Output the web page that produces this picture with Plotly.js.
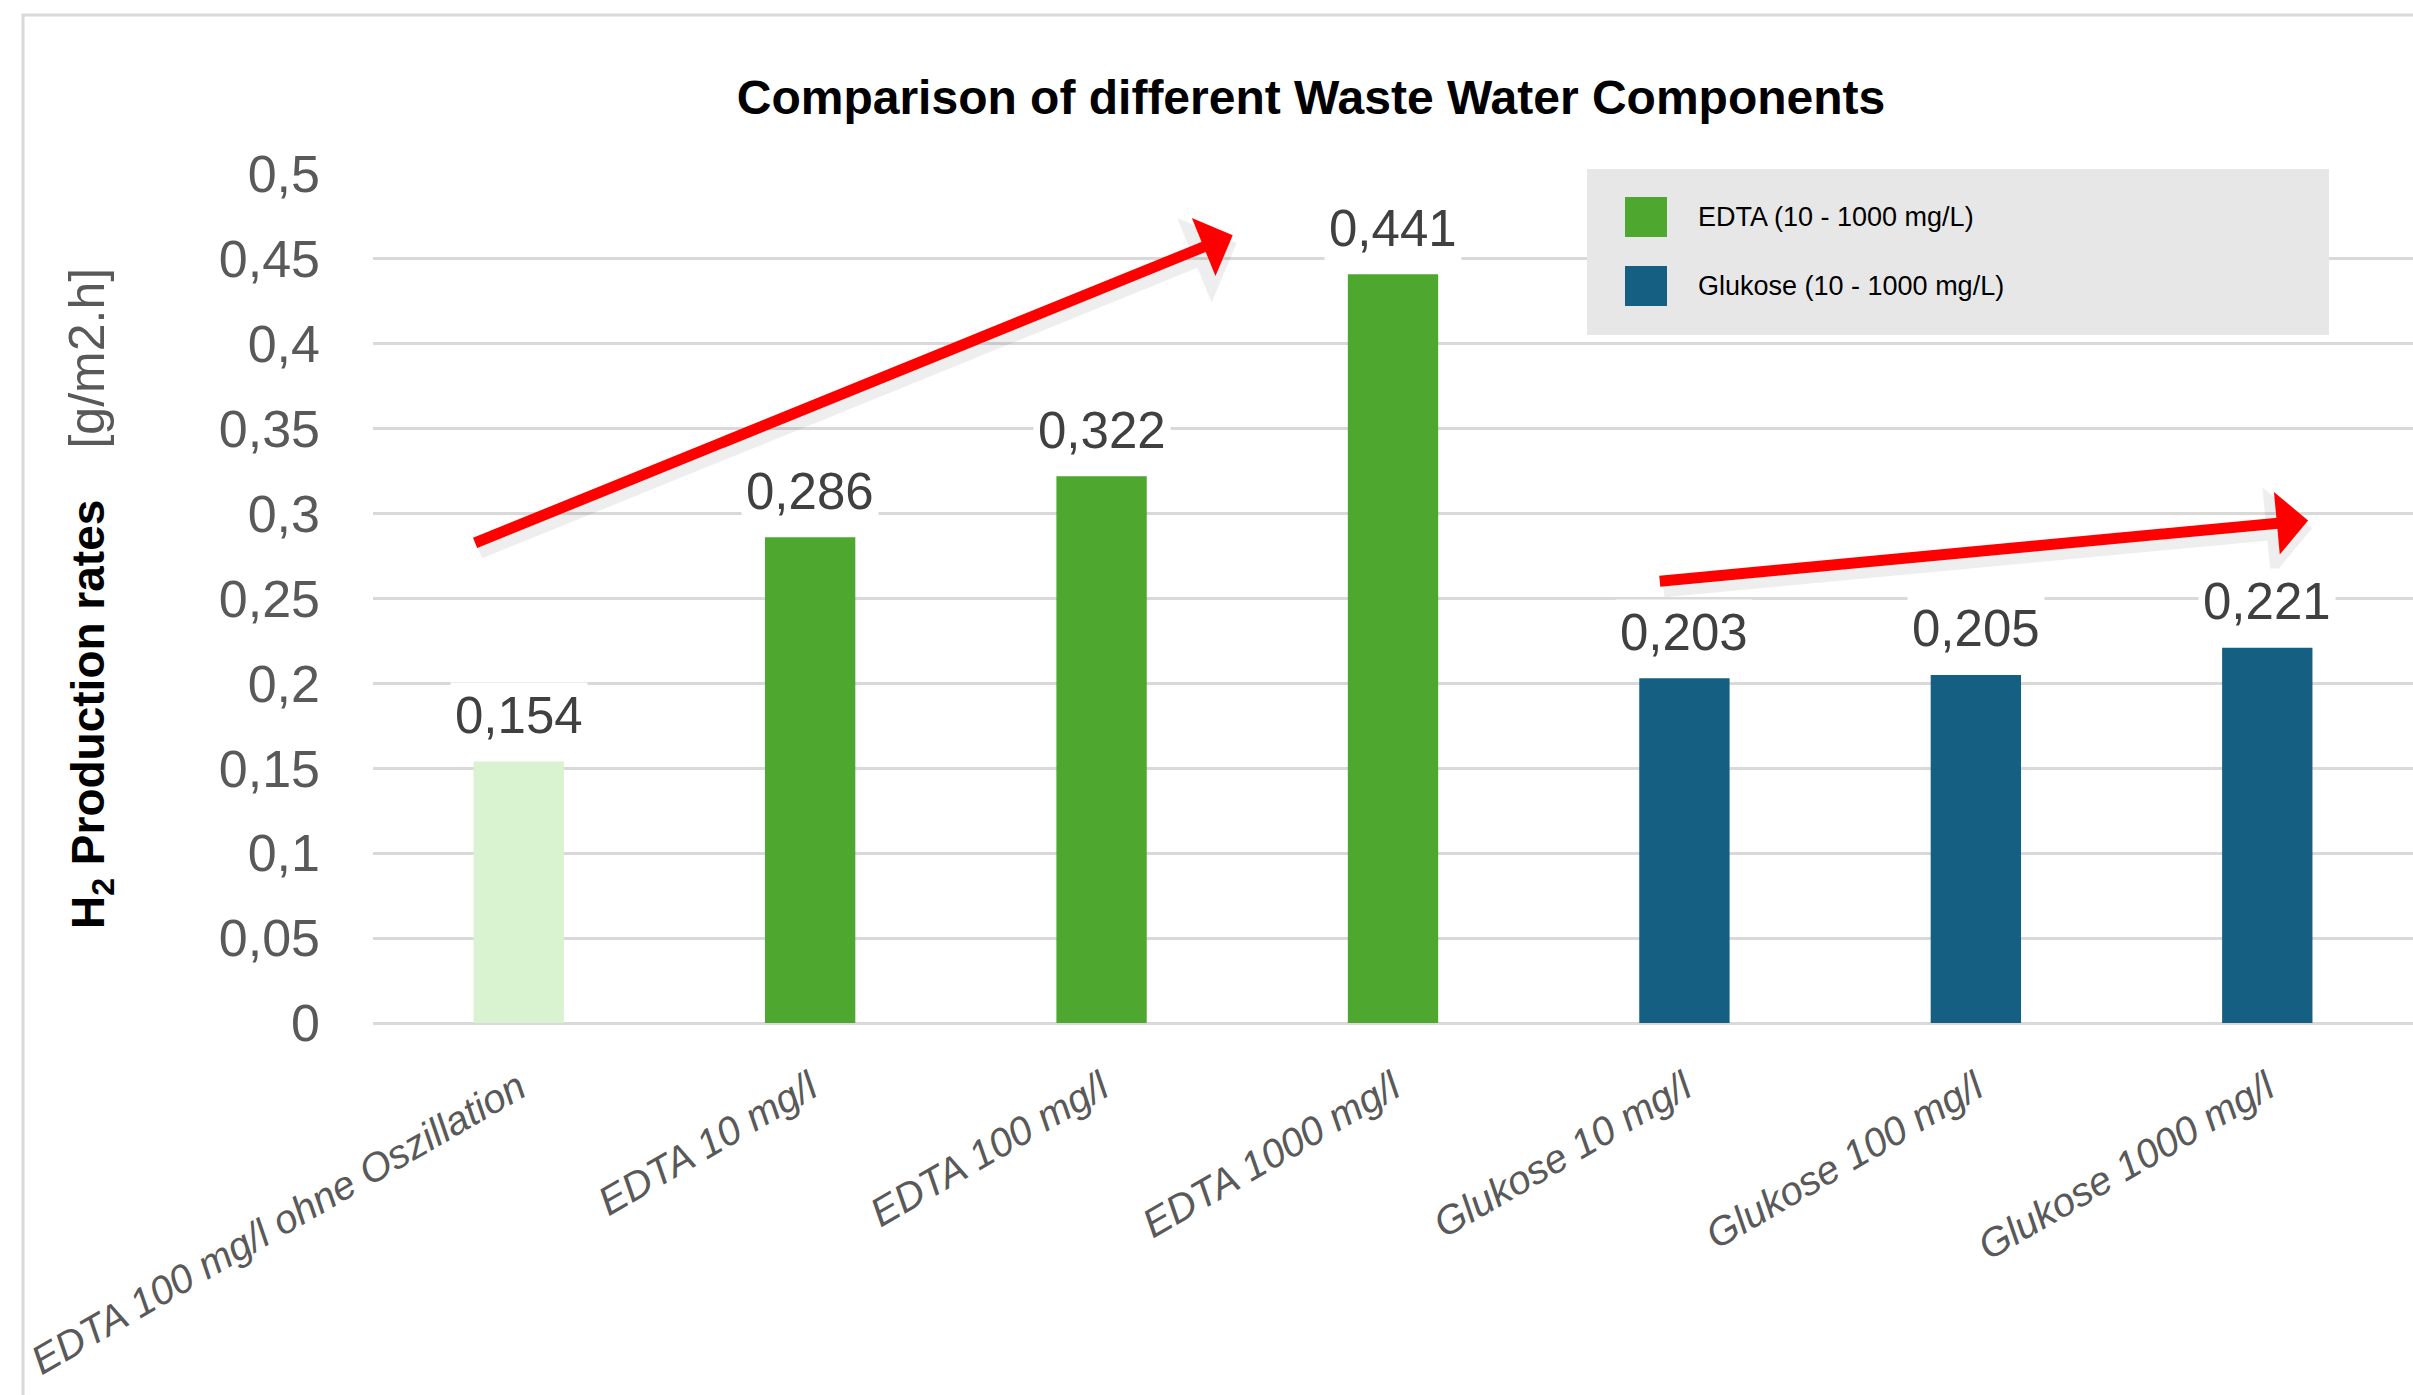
<!DOCTYPE html>
<html><head><meta charset="utf-8">
<script src="https://cdn.plot.ly/plotly-3.0.1.min.js"></script>
<style>html,body{margin:0;padding:0;background:#fff;overflow:hidden}#chart{width:2413px;height:1395px}</style>
</head><body><div id="chart"></div>
<script>
// ---- data ----
const categories = ["EDTA 100 mg/l ohne Oszillation","EDTA 10 mg/l","EDTA 100 mg/l","EDTA 1000 mg/l","Glukose 10 mg/l","Glukose 100 mg/l","Glukose 1000 mg/l"];
const baselineCategories = ["EDTA 100 mg/l ohne Oszillation"];
const baselineValues = [0.154];
const edtaCategories = ["EDTA 10 mg/l","EDTA 100 mg/l","EDTA 1000 mg/l"];
const edtaValues = [0.286, 0.322, 0.441];
const glukoseCategories = ["Glukose 10 mg/l","Glukose 100 mg/l","Glukose 1000 mg/l"];
const glukoseValues = [0.203, 0.205, 0.221];
const legendLabels = ["EDTA (10 - 1000 mg/L)", "Glukose (10 - 1000 mg/L)"];
const titleText = "Comparison of different Waste Water Components";
// trend arrows: [x index, value] tail -> head
const arrowTails = [[-0.16, 0.282], [3.905, 0.260]];
const arrowHeads = [[2.45, 0.464], [6.14, 0.296]];

// ---- styles ----
const cLight = "#D9F2D0", cGreen = "#4EA72E", cBlue = "#156082";
const W = 2413, H = 1395, L = 373, R = 0, T = 174, B = 372;
const PW = W - L - R, PH = H - T - B;
const px2x = X => (X - L) / PW;
const px2y = Y => (H - B - Y) / PH;
const fmt = v => v.toFixed(3).replace('.', ',');
const barW = 0.31;

const traces = [
  {type:'bar', x: baselineCategories, y: baselineValues, marker:{color:cLight}, width: barW, showlegend:false},
  {type:'bar', name: legendLabels[0], x: edtaCategories, y: edtaValues, marker:{color:cGreen}, width: barW, showlegend:false},
  {type:'bar', name: legendLabels[1], x: glukoseCategories, y: glukoseValues, marker:{color:cBlue}, width: barW, showlegend:false}
];

const annotations = [];
// arrows (soft shadow + arrow)
arrowTails.forEach((t, i) => {
  const h = arrowHeads[i];
  annotations.push({x:h[0], y:h[1], ax:t[0], ay:t[1], xref:'x', yref:'y', axref:'x', ayref:'y', text:' ',
    showarrow:true, arrowhead:1, arrowsize:0.95, arrowwidth:16, arrowcolor:'rgba(0,0,0,0.07)', xshift:4, yshift:-8});
  annotations.push({x:h[0], y:h[1], ax:t[0], ay:t[1], xref:'x', yref:'y', axref:'x', ayref:'y', text:' ',
    showarrow:true, arrowhead:1, arrowsize:0.95, arrowwidth:11, arrowcolor:'#FF0000'});
});
// data labels
[[baselineCategories, baselineValues],[edtaCategories, edtaValues],[glukoseCategories, glukoseValues]].forEach(([cs, vs]) => {
  cs.forEach((c, i) => annotations.push({
    x: c, y: vs[i], xref:'x', yref:'y', text: fmt(vs[i]), showarrow:false,
    yanchor:'middle', yshift: 46, bgcolor:'#ffffff', borderpad: 4,
    font:{family:'Liberation Sans Narrow, Arial Narrow, Liberation Sans, sans-serif', size:51, color:'#404040'}
  }));
});
// custom legend text
const legendColors = [cGreen, cBlue];
const legendRowsY = [217, 286];
legendLabels.forEach((lab, i) => annotations.push({
  x: px2x(1696), y: px2y(legendRowsY[i]), xref:'paper', yref:'paper', xanchor:'left', yanchor:'middle',
  text: lab, showarrow:false, font:{family:'Liberation Sans Narrow, Arial Narrow, Liberation Sans, sans-serif', size:27, color:'#000000'}
}));

const shapes = [
  // outer chart border
  {type:'rect', xref:'paper', yref:'paper', x0:px2x(23), x1:px2x(W+20), y0:px2y(H+20), y1:px2y(15),
   line:{color:'#D9D9D9', width:3}, fillcolor:'rgba(0,0,0,0)', layer:'below'},
  // legend box
  {type:'rect', xref:'paper', yref:'paper', x0:px2x(1587), x1:px2x(2329), y0:px2y(335), y1:px2y(169),
   line:{width:0}, fillcolor:'#E7E7E7', layer:'above'}
];
legendColors.forEach((c, i) => shapes.push({type:'rect', xref:'paper', yref:'paper',
  x0:px2x(1625), x1:px2x(1667), y0:px2y(legendRowsY[i]+20), y1:px2y(legendRowsY[i]-20),
  line:{width:0}, fillcolor:c, layer:'above'}));

const layout = {
  width:W, height:H, margin:{l:L, r:R, t:T, b:B, pad:0},
  paper_bgcolor:'#ffffff', plot_bgcolor:'#ffffff',
  separators: ',.',
  barmode:'overlay', showlegend:false,
  title:{text:'<b>' + titleText + '</b>', xref:'container', yref:'container', x:1311/W, y:1-97/H,
    xanchor:'center', yanchor:'middle', font:{family:'Liberation Sans, Arial, sans-serif', size:48, color:'#000000'}},
  xaxis:{type:'category', categoryorder:'array', categoryarray:categories, range:[-0.5, 6.5],
    showgrid:false, showline:false, zeroline:false, ticks:'', tickangle:-30, ticklabelstandoff:33,
    tickfont:{family:'Liberation Sans, Arial, sans-serif', size:40, color:'#595959', style:'italic'}},
  yaxis:{range:[0, 0.5], dtick:0.05, tick0:0, showline:false, ticks:'',
    gridcolor:'#D9D9D9', gridwidth:3, zeroline:true, zerolinecolor:'#D9D9D9', zerolinewidth:3,
    ticklabelstandoff:52,
    tickfont:{family:'Liberation Sans Narrow, Arial Narrow, Liberation Sans, sans-serif', size:52, color:'#595959'},
    title:{text:'<b>H<sub>2</sub> Production rates</b>    <span style="color:#595959;font-size:50px">[g/m2.h]</span>',
      standoff:99, font:{family:'Liberation Sans, Arial, sans-serif', size:46, color:'#000000'}}},
  annotations: annotations, shapes: shapes
};
Plotly.newPlot('chart', traces, layout, {staticPlot:true, displayModeBar:false});
</script></body></html>
